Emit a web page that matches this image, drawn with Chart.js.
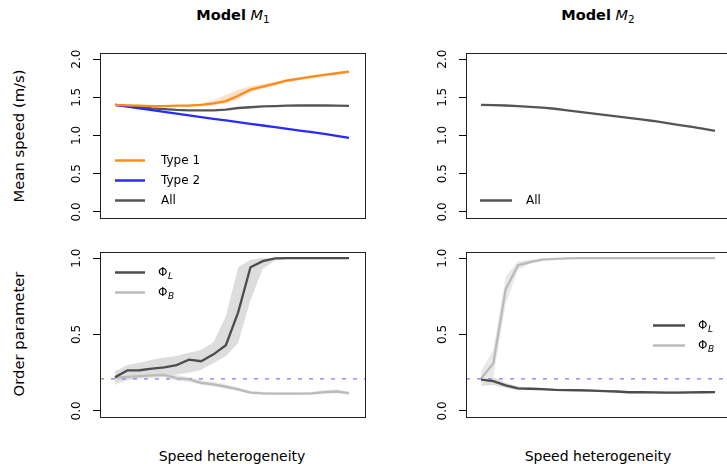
<!DOCTYPE html>
<html><head><meta charset="utf-8">
<script src="https://cdn.jsdelivr.net/npm/chart.js@4"></script>
<style>
body{margin:0;width:727px;height:464px;overflow:hidden;background:#fff;position:relative;font-family:"DejaVu Sans",sans-serif;color:#000}
canvas{position:absolute}
.t{position:absolute;white-space:nowrap;transform:translate(-50%,-50%);line-height:1}
.ttl{font-size:14.5px}
.ttl sub{font-size:10.5px;vertical-align:-3px}
.ax{font-size:14px}
.axy{font-size:14.8px}
.rot{transform:translate(-50%,-50%) rotate(-90deg)}
</style></head><body>
<div class="t ttl" style="left:233px;top:16px"><b>Model</b> <i>M</i><sub>1</sub></div>
<div class="t ttl" style="left:598px;top:16px"><b>Model</b> <i>M</i><sub>2</sub></div>
<div class="t axy rot" style="left:19px;top:136px">Mean speed (m/s)</div>
<div class="t axy rot" style="left:19px;top:334px">Order parameter</div>
<div class="t ax" style="left:232px;top:456px">Speed heterogeneity</div>
<div class="t ax" style="left:598px;top:456px">Speed heterogeneity</div>
<canvas id="c1" width="325" height="185" style="left:50px;top:43px"></canvas>
<canvas id="c2" width="325" height="185" style="left:416px;top:43px"></canvas>
<canvas id="c3" width="325" height="185" style="left:50px;top:242px"></canvas>
<canvas id="c4" width="325" height="185" style="left:416px;top:242px"></canvas>
<script>
// ---- data ----
const xIdx = [0,1,2,3,4,5,6,7,8,9,10,11,12,13,14,15,16,17,18,19];
const speedTicks = [0, 0.5, 1, 1.5, 2];
const orderTicks = [0, 0.5, 1];
const chanceLevel = 0.21;

const m1Type1   = [1.40,1.395,1.39,1.385,1.385,1.39,1.39,1.40,1.42,1.45,1.52,1.60,1.64,1.68,1.72,1.745,1.77,1.795,1.815,1.835];
const m1Type1Hi = [1.41,1.405,1.40,1.395,1.395,1.40,1.405,1.42,1.46,1.53,1.60,1.645,1.675,1.705,1.74,1.765,1.79,1.81,1.83,1.85];
const m1Type1Lo = [1.39,1.385,1.38,1.375,1.375,1.38,1.38,1.385,1.40,1.42,1.47,1.57,1.615,1.655,1.70,1.725,1.75,1.775,1.795,1.815];
const m1Type2   = [1.40,1.378,1.356,1.333,1.31,1.287,1.264,1.241,1.219,1.197,1.175,1.153,1.131,1.109,1.087,1.065,1.043,1.02,0.996,0.968];
const m1All     = [1.40,1.385,1.37,1.355,1.345,1.335,1.33,1.33,1.33,1.34,1.36,1.37,1.38,1.385,1.39,1.393,1.393,1.393,1.392,1.387];
const m2All     = [1.40,1.398,1.393,1.385,1.376,1.365,1.35,1.33,1.31,1.29,1.27,1.25,1.23,1.21,1.19,1.165,1.14,1.115,1.09,1.06];

const m1PhiL   = [0.22,0.265,0.266,0.277,0.285,0.30,0.335,0.325,0.37,0.43,0.645,0.94,0.98,0.998,1,1,1,1,1,1];
const m1PhiLHi = [0.26,0.30,0.315,0.335,0.35,0.36,0.38,0.40,0.45,0.62,0.94,0.99,1,1,1,1,1,1,1,1];
const m1PhiLLo = [0.184,0.206,0.215,0.222,0.225,0.238,0.249,0.27,0.314,0.357,0.446,0.725,0.93,0.985,0.995,1,1,1,1,1];
const m1PhiB   = [0.217,0.223,0.227,0.232,0.236,0.214,0.206,0.184,0.173,0.158,0.141,0.12,0.115,0.113,0.113,0.113,0.114,0.123,0.127,0.116];
const m1PhiBHi = [0.25,0.245,0.245,0.25,0.252,0.235,0.222,0.20,0.19,0.175,0.155,0.13,0.125,0.12,0.12,0.12,0.125,0.135,0.14,0.125];
const m1PhiBLo = [0.17,0.20,0.21,0.215,0.22,0.195,0.19,0.17,0.16,0.145,0.13,0.11,0.105,0.105,0.105,0.105,0.105,0.11,0.115,0.105];

const m2PhiL   = [0.205,0.195,0.167,0.148,0.145,0.142,0.138,0.136,0.135,0.133,0.13,0.127,0.122,0.122,0.121,0.12,0.12,0.121,0.122,0.123];
const m2PhiLHi = [0.225,0.22,0.185,0.16,0.155,0.15,0.146,0.144,0.142,0.14,0.137,0.134,0.13,0.13,0.129,0.128,0.128,0.129,0.13,0.131];
const m2PhiLLo = [0.165,0.17,0.15,0.135,0.135,0.134,0.13,0.128,0.127,0.126,0.123,0.12,0.115,0.115,0.113,0.112,0.112,0.113,0.114,0.115];
const m2PhiB   = [0.212,0.31,0.795,0.953,0.974,0.99,0.995,0.998,1,1,1,1,1,1,1,1,1,1,1,1];
const m2PhiBHi = [0.26,0.40,0.88,0.98,0.99,1,1,1,1,1,1,1,1,1,1,1,1,1,1,1];
const m2PhiBLo = [0.17,0.22,0.70,0.92,0.965,0.985,0.99,0.995,0.998,1,1,1,1,1,1,1,1,1,1,1];

// ---- helpers ----
const X_MIN = -1.2175, X_MAX = 20.30;
const pts = arr => arr.map((v,i)=>({x:xIdx[i], y:v}));
const line = (label, arr, color) => ({label, data: pts(arr), borderColor: color, backgroundColor: color, borderWidth: 2.3, pointRadius: 0, fill: false, tension: 0});
const band = (hi, lo, color) => [
  {data: pts(hi), borderWidth: 0, pointRadius: 0, fill: '+1', backgroundColor: color, borderColor: 'rgba(0,0,0,0)'},
  {data: pts(lo), borderWidth: 0, pointRadius: 0, fill: false, borderColor: 'rgba(0,0,0,0)'}
];
const hline = v => ({data: [{x: X_MIN, y: v}, {x: X_MAX, y: v}], borderColor: '#7b7bf2', borderWidth: 1.3, borderDash: [4,7], pointRadius: 0, fill: false});

const deco = {
  id: 'deco',
  afterDraw(chart, args, o) {
    const {ctx, chartArea: a} = chart;
    const ys = chart.scales.y;
    ctx.save();
    ctx.strokeStyle = '#222'; ctx.lineWidth = 1;
    ctx.strokeRect(Math.round(a.left) + 0.5, Math.round(a.top) + 0.5, Math.round(a.right - a.left), Math.round(a.bottom - a.top));
    ctx.fillStyle = '#000'; ctx.font = '12px "DejaVu Sans"'; ctx.textAlign = 'center'; ctx.textBaseline = 'middle';
    o.ticks.forEach(v => {
      const y = ys.getPixelForValue(v);
      ctx.save(); ctx.translate(a.left - 23, y); ctx.rotate(-Math.PI / 2); ctx.fillText(v.toFixed(1), 0, 0); ctx.restore();
    });
    const L = o.legend;
    L.items.forEach((it, k) => {
      const ds = chart.data.datasets[it.ds];
      const y = Math.round(a.top + L.y[k]) + 0.5;
      ctx.strokeStyle = ds.borderColor; ctx.lineWidth = 2.5;
      ctx.beginPath(); ctx.moveTo(a.left + L.x0, y); ctx.lineTo(a.left + L.x0 + L.len, y); ctx.stroke();
      ctx.textAlign = 'left'; ctx.fillStyle = '#000';
      ctx.font = '12px "DejaVu Sans"';
      const tx = a.left + L.tx;
      ctx.fillText(ds.label, tx, y);
      if (it.sub) {
        const w = ctx.measureText(ds.label).width;
        ctx.font = 'italic 9px "DejaVu Sans"';
        ctx.fillText(it.sub, tx + w + 0.5, y + 4);
      }
    });
    ctx.restore();
  }
};

function make(id, datasets, yMin, yMax, ticks, legend) {
  return new Chart(document.getElementById(id), {
    type: 'line',
    data: {datasets},
    plugins: [deco],
    options: {
      responsive: false, animation: false, devicePixelRatio: 1,
      layout: {padding: {left: 0, right: 10, top: 10, bottom: 10}},
      scales: {
        x: {type: 'linear', display: false, min: X_MIN, max: X_MAX},
        y: {
          min: yMin, max: yMax,
          afterBuildTicks: s => { s.ticks = ticks.map(v => ({value: v})); },
          afterFit: s => { s.width = 50; },
          ticks: {display: false},
          grid: {drawOnChartArea: false, drawTicks: true, tickLength: 7, color: '#000', lineWidth: 1},
          border: {display: false}
        }
      },
      plugins: {
        legend: {display: false}, tooltip: {enabled: false},
        filler: {drawTime: 'beforeDatasetsDraw'},
        deco: {ticks, legend}
      }
    }
  });
}

make('c1', [
  line('Type 1', m1Type1, '#ff8c1a'),
  line('Type 2', m1Type2, '#2a2aff'),
  line('All', m1All, '#555555'),
  ...band(m1Type1Hi, m1Type1Lo, '#fde1c8')
], -0.08, 2.08, speedTicks, {x0: 15, len: 30, tx: 61, y: [107, 127, 147], items: [{ds: 0}, {ds: 1}, {ds: 2}]});

make('c2', [
  line('All', m2All, '#555555')
], -0.08, 2.08, speedTicks, {x0: 14, len: 32, tx: 60, y: [147], items: [{ds: 0}]});

make('c3', [
  line('Φ', m1PhiL, '#4d4d4d'),
  line('Φ', m1PhiB, '#bbbbbb'),
  hline(chanceLevel),
  ...band(m1PhiLHi, m1PhiLLo, '#dddddd'),
  ...band(m1PhiBHi, m1PhiBLo, '#e9e9e9')
], -0.04, 1.04, orderTicks, {x0: 15, len: 30, tx: 58, y: [20, 40], items: [{ds: 0, sub: 'L'}, {ds: 1, sub: 'B'}]});

make('c4', [
  line('Φ', m2PhiL, '#4d4d4d'),
  line('Φ', m2PhiB, '#bbbbbb'),
  hline(chanceLevel),
  ...band(m2PhiBHi, m2PhiBLo, '#e9e9e9'),
  ...band(m2PhiLHi, m2PhiLLo, '#dddddd')
], -0.04, 1.04, orderTicks, {x0: 187, len: 32, tx: 232, y: [73, 93], items: [{ds: 0, sub: 'L'}, {ds: 1, sub: 'B'}]});
</script>
</body></html>
